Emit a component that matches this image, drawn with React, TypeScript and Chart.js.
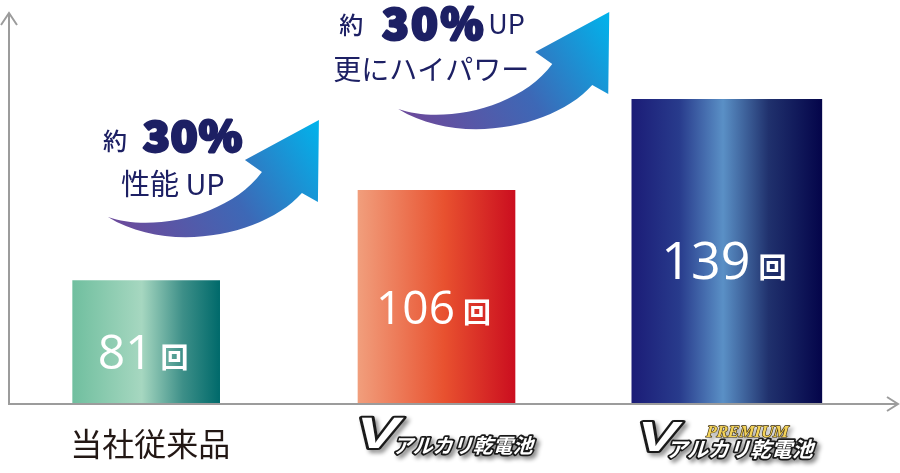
import { useEffect, useRef } from "react";
import { Chart, registerables } from "chart.js";

Chart.register(...registerables);

// ---- data ----
const categories = ["当社従来品", "Vアルカリ乾電池", "PREMIUM Vアルカリ乾電池"];
const values = [81, 106, 139];
const unitLabel = "回";
const callout1Text = ["約", "30%", "性能 UP"];
const callout2Text = ["約", "30%", "UP", "更にハイパワー"];
const logoMain = "V";
const logoSub = "アルカリ乾電池";
const logoPremium = "PREMIUM";

// ---- styles ----
const barWidths = [147, 157, 190];
const barStops: [number, string][][] = [
  [[0, "#70bf9f"], [0.47, "#a6d7c0"], [0.75, "#3d8f88"], [1, "#006a6b"]],
  [[0, "#f19e7c"], [0.55, "#e8512f"], [1, "#cb0e1f"]],
  [[0, "#1b1c77"], [0.25, "#283b8c"], [0.48, "#5a90c6"], [0.72, "#20316d"], [1, "#04054a"]],
];
const labelFontSizes = [48, 46, 52];
const AXIS = "#9c9c9c";
const NAVY = "#1d2064";
const JP = '"Noto Sans CJK JP", "Noto Sans", sans-serif';
const Y_AXIS_INSET = 8;
const X_AXIS_EXTRA = 26;

function barGradient(chart: any, i: number) {
  const xs = chart.scales && chart.scales.x;
  const stops = barStops[i];
  if (!xs || !chart.chartArea) return stops[0][1];
  const cx = xs.getPixelForValue(i);
  const w = barWidths[i];
  const g = chart.ctx.createLinearGradient(cx - w / 2, 0, cx + w / 2, 0);
  stops.forEach(([o, c]) => g.addColorStop(o, c));
  return g;
}

function drawArrow(ctx: CanvasRenderingContext2D, tx: number, ty: number) {
  const P = (dx: number, dy: number): [number, number] => [tx + dx, ty + dy];
  ctx.save();
  const g = ctx.createLinearGradient(...P(-190, 115), ...P(0, 0));
  g.addColorStop(0, "#6a4b9c");
  g.addColorStop(0.5, "#3d68b6");
  g.addColorStop(1, "#00b4ec");
  ctx.fillStyle = g;
  ctx.beginPath();
  ctx.moveTo(...P(-211, 97));
  ctx.bezierCurveTo(...P(-169, 112), ...P(-91, 98), ...P(-57, 52));
  ctx.lineTo(...P(-74, 40));
  ctx.lineTo(...P(0, 0));
  ctx.lineTo(...P(-1, 82));
  ctx.lineTo(...P(-17, 73));
  ctx.bezierCurveTo(...P(-54, 115), ...P(-149, 135), ...P(-211, 97));
  ctx.closePath();
  ctx.fill();
  ctx.restore();
}

function outlinedText(
  ctx: CanvasRenderingContext2D,
  text: string,
  x: number,
  y: number,
  font: string,
  skew: number,
  sx: number,
  fill: any,
  stroke: string,
  lw: number
) {
  ctx.save();
  ctx.translate(x, y);
  ctx.transform(sx, 0, -skew, 1, 0, 0);
  ctx.font = font;
  ctx.textAlign = "left";
  ctx.textBaseline = "alphabetic";
  ctx.lineJoin = "round";
  ctx.shadowColor = "rgba(0,0,0,0.45)";
  ctx.shadowBlur = 4;
  ctx.shadowOffsetX = 3;
  ctx.shadowOffsetY = 3;
  ctx.strokeStyle = stroke;
  ctx.lineWidth = lw;
  ctx.strokeText(text, 0, 0);
  ctx.shadowColor = "transparent";
  ctx.fillStyle = fill;
  ctx.fillText(text, 0, 0);
  ctx.restore();
}

function heavyText(
  ctx: CanvasRenderingContext2D,
  text: string,
  x: number,
  y: number,
  size: number,
  sx: number,
  spacing: number
) {
  ctx.save();
  ctx.translate(x, y);
  ctx.scale(sx, 1);
  ctx.font = `900 ${size}px ${JP}`;
  (ctx as any).letterSpacing = `${spacing}px`;
  ctx.fillStyle = NAVY;
  ctx.strokeStyle = NAVY;
  ctx.lineJoin = "round";
  ctx.lineWidth = size * 0.07;
  ctx.textAlign = "left";
  ctx.fillText(text, 0, 0);
  ctx.strokeText(text, 0, 0);
  ctx.restore();
}

const decorPlugin = {
  id: "decor",
  afterDatasetsDraw(chart: any) {
    const ctx: CanvasRenderingContext2D = chart.ctx;
    const xs = chart.scales.x;
    const ys = chart.scales.y;
    const a = chart.chartArea;
    ctx.save();

    // value labels inside bars
    values.forEach((v, i) => {
      const cx = xs.getPixelForValue(i);
      const top = ys.getPixelForValue(v);
      const mid = (top + a.bottom) / 2;
      const base = mid + 27;
      const numFont = `400 ${labelFontSizes[i]}px "Open Sans", "Noto Sans", sans-serif`;
      const unitFont = `700 28px ${JP}`;
      ctx.font = numFont;
      const nw = ctx.measureText(String(v)).width;
      ctx.font = unitFont;
      const uw = ctx.measureText(unitLabel).width;
      const gap = 8;
      const start = cx - (nw + gap + uw) / 2 - 3;
      ctx.fillStyle = "#ffffff";
      ctx.textBaseline = "alphabetic";
      ctx.textAlign = "left";
      ctx.font = numFont;
      ctx.fillText(String(v), start, base);
      ctx.font = unitFont;
      ctx.fillText(unitLabel, start + nw + gap, base - 1);
    });

    // axes with arrow heads
    const ax = a.left + Y_AXIS_INSET;
    const ex = a.right + X_AXIS_EXTRA;
    ctx.strokeStyle = AXIS;
    ctx.lineWidth = 2;
    ctx.beginPath();
    ctx.moveTo(ax, a.bottom);
    ctx.lineTo(ax, a.top + 1);
    ctx.moveTo(ax - 8, a.top + 12);
    ctx.lineTo(ax, a.top);
    ctx.lineTo(ax + 8, a.top + 12);
    ctx.moveTo(ax - 1, a.bottom);
    ctx.lineTo(ex - 1, a.bottom);
    ctx.moveTo(ex - 11, a.bottom - 7);
    ctx.lineTo(ex, a.bottom);
    ctx.lineTo(ex - 11, a.bottom + 7);
    ctx.stroke();

    // callout arrows
    const t1x = xs.getPixelForValue(0.595);
    const t2x = xs.getPixelForValue(1.595);
    drawArrow(ctx, t1x, 120);
    drawArrow(ctx, t2x, 12);

    ctx.fillStyle = NAVY;
    ctx.textAlign = "left";
    ctx.textBaseline = "alphabetic";
    // callout 1
    ctx.font = `500 24px ${JP}`;
    ctx.fillText(callout1Text[0], t1x - 216, 150);
    heavyText(ctx, callout1Text[1], t1x - 176, 151, 40, 1.1, 1);
    ctx.fillStyle = NAVY;
    ctx.font = `400 29px ${JP}`;
    ctx.fillText(callout1Text[2], t1x - 198, 195);
    // callout 2
    ctx.font = `500 24px ${JP}`;
    ctx.fillText(callout2Text[0], t2x - 270, 34);
    heavyText(ctx, callout2Text[1], t2x - 227, 39, 41, 1.06, 2.5);
    ctx.fillStyle = NAVY;
    ctx.font = `400 27px ${JP}`;
    ctx.fillText(callout2Text[2], t2x - 121, 34);
    ctx.font = `400 28px ${JP}`;
    ctx.fillText(callout2Text[3], t2x - 276, 80);

    // category labels
    const c0 = xs.getPixelForValue(0);
    ctx.fillStyle = "#231815";
    ctx.textAlign = "center";
    ctx.font = `400 32px ${JP}`;
    ctx.fillText(categories[0], c0 + 4, 456);

    // logo 1
    const c1 = xs.getPixelForValue(1);
    const l1 = c1 - 84;
    outlinedText(ctx, logoMain, l1, 448, `900 44px "Liberation Sans", sans-serif`, 0.3, 1.45, "#ffffff", "#1a1a1a", 4);
    outlinedText(ctx, logoSub, l1 + 40, 453, `700 20px ${JP}`, 0.3, 1.0, "#ffffff", "#1a1a1a", 3.5);

    // logo 2 (premium)
    const c2 = xs.getPixelForValue(2);
    const l2 = c2 - 93;
    outlinedText(ctx, logoMain, l2, 451, `900 42px "Liberation Sans", sans-serif`, 0.3, 1.45, "#ffffff", "#1a1a1a", 4);
    const gold = ctx.createLinearGradient(0, 424, 0, 438);
    gold.addColorStop(0, "#f3d35a");
    gold.addColorStop(1, "#a47a12");
    outlinedText(ctx, logoPremium, l2 + 72, 437, `italic 700 17px "Liberation Serif", serif`, 0.1, 1.0, gold, "#3a2a08", 1.2);
    outlinedText(ctx, logoSub, l2 + 32, 457, `700 21px ${JP}`, 0.3, 1.0, "#ffffff", "#1a1a1a", 3.5);

    ctx.restore();
  },
};

export default function App() {
  const ref = useRef<HTMLCanvasElement | null>(null);
  useEffect(() => {
    document.body.style.margin = "0";
    const canvas = ref.current;
    if (!canvas) return;
    const chart = new Chart(canvas, {
      type: "bar",
      data: {
        labels: categories,
        datasets: values.map((v, i) => ({
          label: categories[i],
          data: values.map((vv, j) => (j === i ? vv : null)),
          backgroundColor: (c: any) => barGradient(c.chart, i),
          borderWidth: 0,
          skipNull: true,
          barThickness: barWidths[i],
        })) as any,
      },
      options: {
        animation: false,
        responsive: false,
        events: [],
        layout: { padding: { left: 1, right: 28, top: 13, bottom: 69 } },
        plugins: { legend: { display: false }, tooltip: { enabled: false } },
        scales: {
          x: { type: "category", display: false, offset: true },
          y: {
            type: "logarithmic",
            display: false,
            min: 56.1,
            max: 179.7,
            bounds: "data",
          },
        },
      } as any,
      plugins: [decorPlugin],
    });
    return () => chart.destroy();
  }, []);
  return (
    <div style={{ width: 900, height: 473 }}>
      <canvas ref={ref} width={900} height={473} style={{ display: "block" }} />
    </div>
  );
}
